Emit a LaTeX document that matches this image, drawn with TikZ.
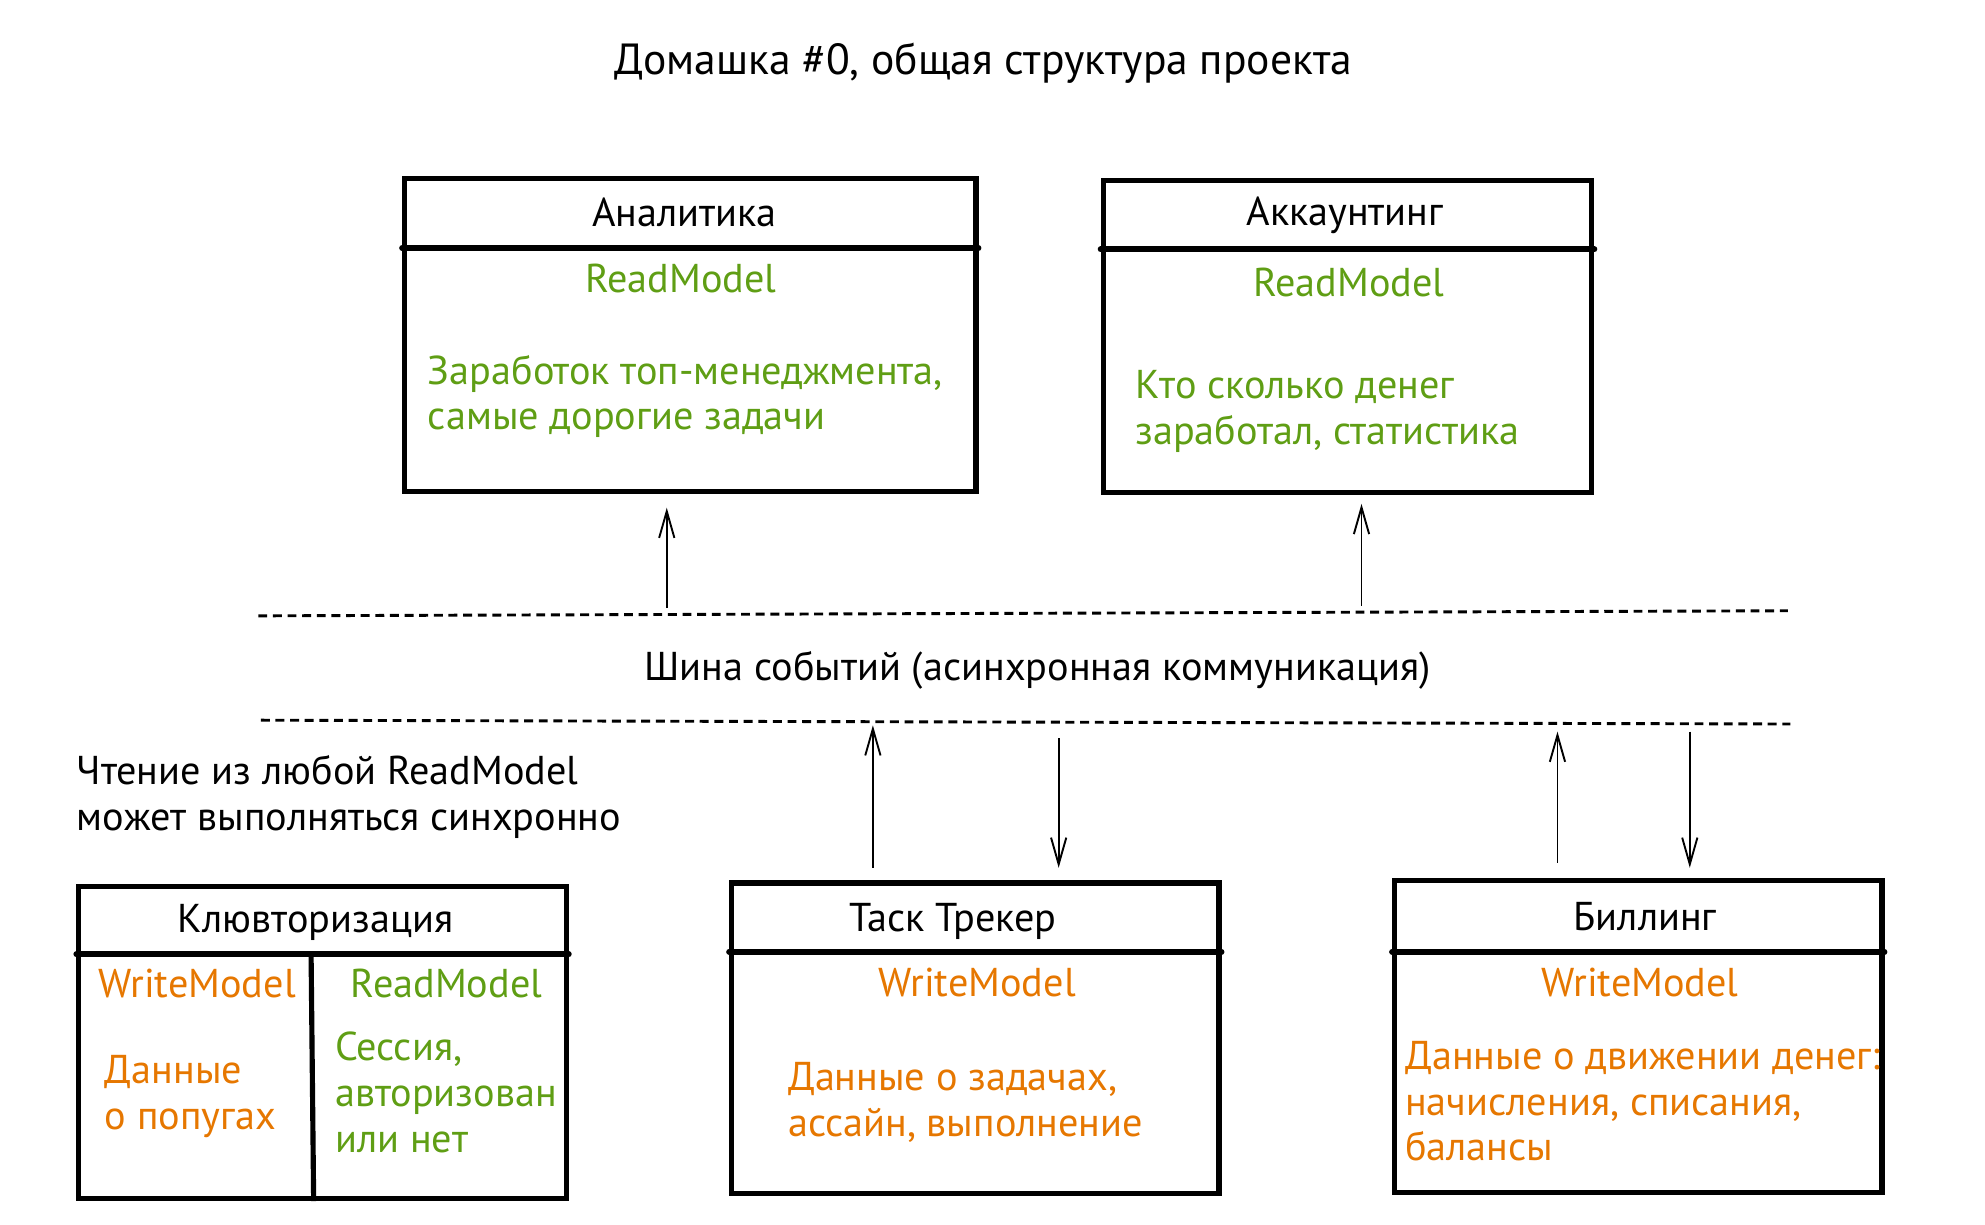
\documentclass[tikz,border=0pt]{standalone}
\usepackage{fontspec}
\setmainfont{PT Sans}
\usetikzlibrary{arrows.meta,calc}
\definecolor{rmgreen}{HTML}{5F9E14}
\definecolor{wmorange}{HTML}{E67700}
\tikzset{
  box/.style={draw=black, line width=2.3pt, rectangle, inner sep=0pt},
  hdr/.style={draw=black, line width=2.6pt, line cap=round},
  txt/.style={inner sep=0pt, font=\fontsize{18}{20.5}\selectfont},
  body/.style={txt, align=left, anchor=west},
  green/.style={text=rmgreen},
  orange/.style={text=wmorange},
  arr/.style={draw=black, line width=0.85pt, -{Straight Barb[length=0.42cm,width=0.24cm]}},
  bus/.style={draw=black, line width=1.3pt, dash pattern=on 0.14cm off 0.09cm}
}
\begin{document}
\begin{tikzpicture}[x=0.02cm, y=-0.02cm]
\useasboundingbox (0,0) rectangle (1560,962);
\fill[white] (0,0) rectangle (1560,962);

% title
\node[txt, font=\fontsize{19.5}{22}\selectfont] (title) at (773,50) {Домашка \#0, общая структура проекта};

% upper boxes
\node[box, minimum width=449*0.02cm, minimum height=246*0.02cm] (ana) at (542.5,263) {};
\draw[hdr] ($(ana.north west)+(0,57)$) -- ($(ana.north east)+(0,57)$);
\node[txt] (anat) at (538,167) {Аналитика};
\node[txt, green] (anarm) at (535,219) {ReadModel};
\node[body, green] (anab) at (336,311.5) {Заработок топ-менеджмента,\\самые дорогие задачи};

\node[box, minimum width=384*0.02cm, minimum height=245*0.02cm] (acc) at (1059,264.5) {};
\draw[hdr] ($(acc.north west)+(0,56)$) -- ($(acc.north east)+(0,56)$);
\node[txt] (acct) at (1057,169) {Аккаунтинг};
\node[txt, green] (accrm) at (1060,222) {ReadModel};
\node[body, green] (accb) at (892,323.5) {Кто сколько денег\\заработал, статистика};

% event bus
\coordinate (busTL) at (203,484);
\coordinate (busTR) at (1405,480);
\coordinate (busBL) at (205,566);
\coordinate (busBR) at (1407,569);
\draw[bus] (busTL) -- (busTR);
\draw[bus] (busBL) -- (busBR);
\node[txt] (bust) at (815.5,527) {Шина событий (асинхронная коммуникация)};

% note
\node[body] (note) at (60,626.5) {Чтение из любой ReadModel\\может выполняться синхронно};

% lower boxes
\node[box, minimum width=383*0.02cm, minimum height=245*0.02cm] (klu) at (253.5,819.5) {};
\draw[hdr] ($(klu.north west)+(0,55)$) -- ($(klu.north east)+(0,55)$);
\draw[box] ($(klu.north west)+(184.5,55)$) -- (klu.south west -| 246.5,0);
\node[txt] (klut) at (248,725) {Клювторизация};
\node[txt, orange] (kluwm) at (155,773) {WriteModel};
\node[txt, green] (klurm) at (351,773) {ReadModel};
\node[body, orange] (kluwb) at (82,862) {Данные\\о попугах};
\node[body, green] (klurb) at (263,858.5) {Сессия,\\авторизован\\или нет};

\node[box, minimum width=383*0.02cm, minimum height=244*0.02cm] (task) at (766.5,816) {};
\draw[hdr] ($(task.north west)+(0,56)$) -- ($(task.north east)+(0,56)$);
\node[txt] (taskt) at (749,724) {Таск Трекер};
\node[txt, orange] (taskwm) at (768,772) {WriteModel};
\node[body, orange] (taskb) at (619,866.5) {Данные о задачах,\\ассайн, выполнение};

\node[box, minimum width=383*0.02cm, minimum height=245*0.02cm] (bill) at (1287.5,814.5) {};
\draw[hdr] ($(bill.north west)+(0,58)$) -- ($(bill.north east)+(0,58)$);
\node[txt] (billt) at (1293,720) {Биллинг};
\node[txt, orange] (billwm) at (1289,772) {WriteModel};
\node[body, orange] (billb) at (1104,865.5) {Данные о движении денег:\\начисления, списания,\\балансы};

% arrows
\coordinate (upA) at (524,478);
\coordinate (upB) at (1070,476);
\draw[arr, shorten >=0.22cm] (upA) -- (upA |- ana.south);
\draw[arr, shorten >=0.14cm] (upB) -- (upB |- acc.south);

\coordinate (tUp) at (686,570);
\coordinate (tDown) at (832,580);
\coordinate (bUp) at (1224,575);
\coordinate (bDown) at (1328,575);
\draw[arr, shorten <=0.2cm] (tUp |- task.north) -- (tUp);
\draw[arr, shorten >=0.2cm] (tDown) -- (tDown |- task.north);
\draw[arr, shorten <=0.24cm] (bUp |- bill.north) -- (bUp);
\draw[arr, shorten >=0.16cm] (bDown) -- (bDown |- bill.north);
\end{tikzpicture}
\end{document}
